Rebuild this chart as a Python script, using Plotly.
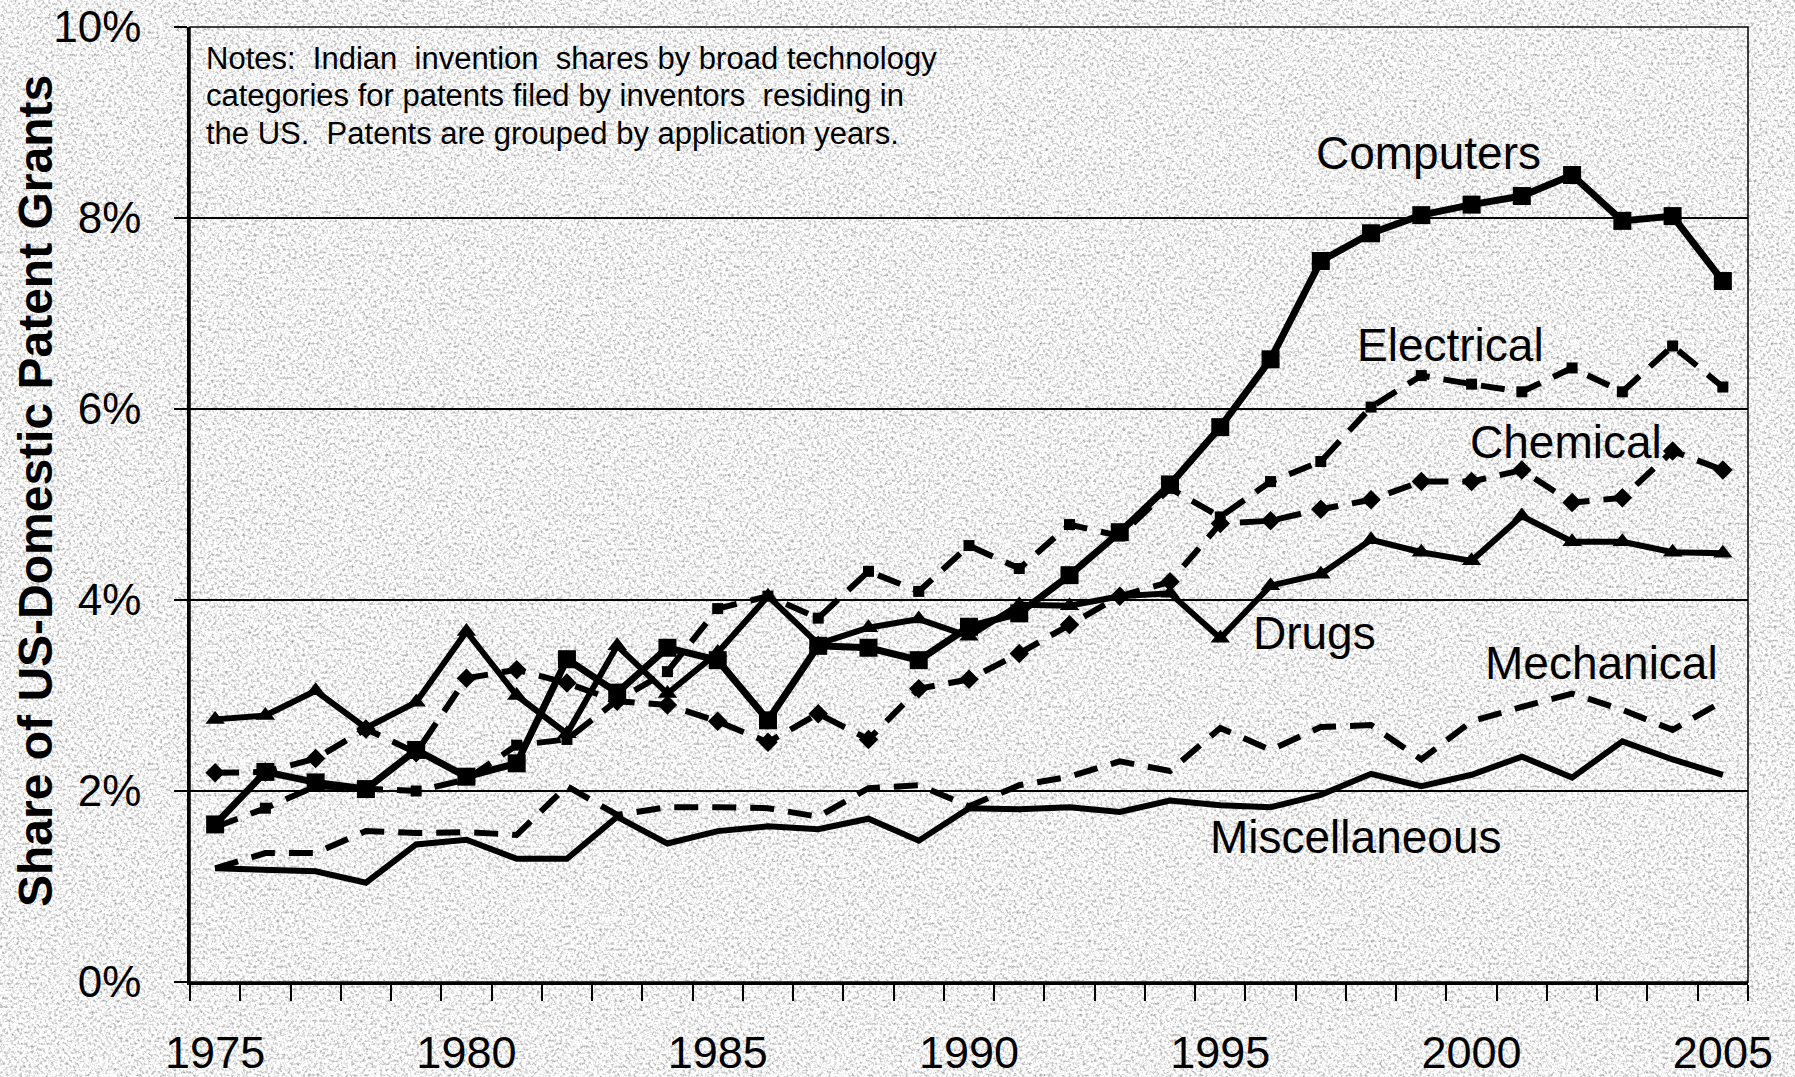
import base64
import plotly.graph_objects as go

years = list(range(1975, 2006))

computers = [1.65, 2.20, 2.09, 2.02, 2.43, 2.15, 2.29, 3.38, 3.03, 3.50, 3.37, 2.74, 3.52, 3.50, 3.37,
             3.72, 3.86, 4.26, 4.71, 5.21, 5.81, 6.52, 7.55, 7.84, 8.03, 8.14, 8.23, 8.45, 7.97, 8.02, 7.34]
electrical = [1.62, 1.82, 2.05, 2.02, 2.00, 2.12, 2.48, 2.54, 2.95, 3.25, 3.91, 4.04, 3.81, 4.30, 4.09,
              4.57, 4.33, 4.79, 4.67, 5.17, 4.87, 5.24, 5.45, 6.02, 6.35, 6.26, 6.18, 6.43, 6.18, 6.66, 6.23]
chemical = [2.19, 2.20, 2.34, 2.65, 2.40, 3.18, 3.27, 3.13, 2.94, 2.90, 2.73, 2.51, 2.81, 2.54, 3.07,
            3.17, 3.44, 3.74, 4.04, 4.19, 4.80, 4.83, 4.95, 5.05, 5.24, 5.24, 5.36, 5.02, 5.07, 5.56, 5.36]
drugs = [2.75, 2.79, 3.05, 2.66, 2.93, 3.67, 3.00, 2.60, 3.52, 3.02, 3.45, 4.04, 3.54, 3.71, 3.80,
         3.62, 3.95, 3.94, 4.04, 4.07, 3.60, 4.15, 4.27, 4.63, 4.50, 4.41, 4.88, 4.61, 4.61, 4.50, 4.49]
mechanical = [1.19, 1.35, 1.35, 1.58, 1.56, 1.57, 1.54, 2.05, 1.75, 1.83, 1.83, 1.82, 1.73, 2.03, 2.06,
              1.84, 2.06, 2.15, 2.31, 2.21, 2.66, 2.43, 2.67, 2.69, 2.33, 2.73, 2.88, 3.02, 2.85, 2.64, 2.94]
miscellaneous = [1.19, 1.18, 1.16, 1.04, 1.44, 1.49, 1.29, 1.29, 1.73, 1.45, 1.58, 1.63, 1.60, 1.71, 1.48,
                 1.82, 1.81, 1.83, 1.78, 1.90, 1.85, 1.83, 1.96, 2.18, 2.05, 2.17, 2.36, 2.14, 2.52, 2.33, 2.17]

x_tick_years = [1975, 1980, 1985, 1990, 1995, 2000, 2005]
y_tick_vals = [0, 2, 4, 6, 8, 10]
y_tick_text = ["0%", "2%", "4%", "6%", "8%", "10%"]

notes_lines = [
    "Notes:\u00a0 Indian\u00a0 invention\u00a0 shares by broad technology",
    "categories for patents filed by inventors\u00a0 residing in",
    "the US.\u00a0 Patents are grouped by application years.",
]

FONT = "Liberation Sans, Arial, sans-serif"
W, H = 1795, 1077
ML, MR, MT, MB = 190, 47, 27, 95
pw, ph = W - ML - MR, H - MT - MB

DASH = "24px,14px"

fig = go.Figure()
fig.add_trace(go.Scatter(x=years, y=miscellaneous, mode="lines", name="Miscellaneous",
                         line=dict(color="black", width=6)))
fig.add_trace(go.Scatter(x=years, y=mechanical, mode="lines", name="Mechanical",
                         line=dict(color="black", width=6, dash=DASH)))
fig.add_trace(go.Scatter(x=years, y=chemical, mode="lines+markers", name="Chemical",
                         line=dict(color="black", width=6, dash=DASH),
                         marker=dict(symbol="diamond", size=15, color="black")))
fig.add_trace(go.Scatter(x=years, y=electrical, mode="lines+markers", name="Electrical",
                         line=dict(color="black", width=6, dash=DASH),
                         marker=dict(symbol="square", size=11, color="black")))
fig.add_trace(go.Scatter(x=years, y=drugs, mode="lines+markers", name="Drugs",
                         line=dict(color="black", width=6),
                         marker=dict(symbol="triangle-up", size=17, color="black")))
fig.add_trace(go.Scatter(x=years, y=computers, mode="lines+markers", name="Computers",
                         line=dict(color="black", width=7),
                         marker=dict(symbol="square", size=18, color="black")))

labels = [
    ("Computers", 1999.14, 8.68),
    ("Electrical", 1999.58, 6.67),
    ("Chemical", 2001.88, 5.65),
    ("Drugs", 1996.87, 3.65),
    ("Mechanical", 2002.58, 3.34),
    ("Miscellaneous", 1997.69, 1.52),
]
for txt, lx, ly in labels:
    fig.add_annotation(x=lx, y=ly, xref="x", yref="y", text=txt, showarrow=False,
                       xanchor="center", yanchor="middle",
                       font=dict(family=FONT, size=46, color="black"))

for i, line in enumerate(notes_lines):
    yc = 58 + 37.5 * i
    fig.add_annotation(x=(204 - ML) / pw, y=(H - MB - yc) / ph, xref="paper", yref="paper",
                       text=line, showarrow=False, xanchor="left", yanchor="middle", align="left",
                       font=dict(family=FONT, size=31, color="black"))

fig.add_annotation(x=(35 - ML) / pw, y=(H - MB - 491) / ph, xref="paper", yref="paper",
                   text="<b>Share of US-Domestic Patent Grants</b>", textangle=-90, showarrow=False,
                   xanchor="center", yanchor="middle",
                   font=dict(family=FONT, size=48, color="black"))

# plot border (top/right)
fig.add_shape(type="rect", xref="paper", yref="paper", x0=0, x1=1, y0=0, y1=1,
              line=dict(color="black", width=1.5), layer="above")

svg = ("<svg xmlns='http://www.w3.org/2000/svg' width='1795' height='1077'>"
       "<filter id='f' x='0' y='0' width='100%' height='100%' color-interpolation-filters='sRGB'>"
       "<feTurbulence type='fractalNoise' baseFrequency='0.35' numOctaves='4' seed='7'/>"
       "<feColorMatrix type='matrix' values='1 0 0 0 0 1 0 0 0 0 1 0 0 0 0 0 0 0 0 1'/>"
       "<feComponentTransfer>"
       "<feFuncR type='linear' slope='0.85' intercept='0.53'/>"
       "<feFuncG type='linear' slope='0.85' intercept='0.53'/>"
       "<feFuncB type='linear' slope='0.85' intercept='0.53'/>"
       "</feComponentTransfer></filter>"
       "<rect width='1795' height='1077' fill='#e2e2e2'/>"
       "<rect width='1795' height='1077' filter='url(#f)'/></svg>")
src = "data:image/svg+xml;base64," + base64.b64encode(svg.encode()).decode()
fig.add_layout_image(source=src, xref="paper", yref="paper", x=-ML / pw, y=1 + MT / ph,
                     sizex=W / pw, sizey=H / ph, xanchor="left", yanchor="top",
                     sizing="stretch", layer="below")

fig.update_layout(
    width=W, height=H,
    margin=dict(l=ML, r=MR, t=MT, b=MB, pad=0, autoexpand=False),
    paper_bgcolor="#e0e0e0", plot_bgcolor="rgba(0,0,0,0)",
    showlegend=False,
    font=dict(family=FONT, color="black"),
)
fig.update_xaxes(
    range=[1974.5, 2005.5], tickmode="array", tickvals=x_tick_years, automargin=False,
    ticktext=[str(v) for v in x_tick_years], ticks="", showgrid=False, zeroline=False,
    showline=True, linecolor="black", linewidth=2.5,
    tickfont=dict(family=FONT, size=45, color="black"), ticklabelstandoff=29,
    minor=dict(tickmode="linear", tick0=1974.5, dtick=1, ticks="outside", ticklen=16,
               tickwidth=1.5, tickcolor="black", showgrid=False),
)
fig.update_yaxes(
    range=[0, 10], tickmode="array", tickvals=y_tick_vals, ticktext=y_tick_text, automargin=False,
    ticks="outside", ticklen=13, tickwidth=1.5, tickcolor="black",
    showgrid=True, gridcolor="black", gridwidth=1.5, zeroline=False,
    showline=True, linecolor="black", linewidth=2.5,
    tickfont=dict(family=FONT, size=44, color="black"), ticklabelstandoff=24,
)

fig.write_html("out.html", config={"displayModeBar": False},
               post_script="document.body.style.margin='0';document.body.style.overflow='hidden';"
                           "document.documentElement.style.overflow='hidden';")
